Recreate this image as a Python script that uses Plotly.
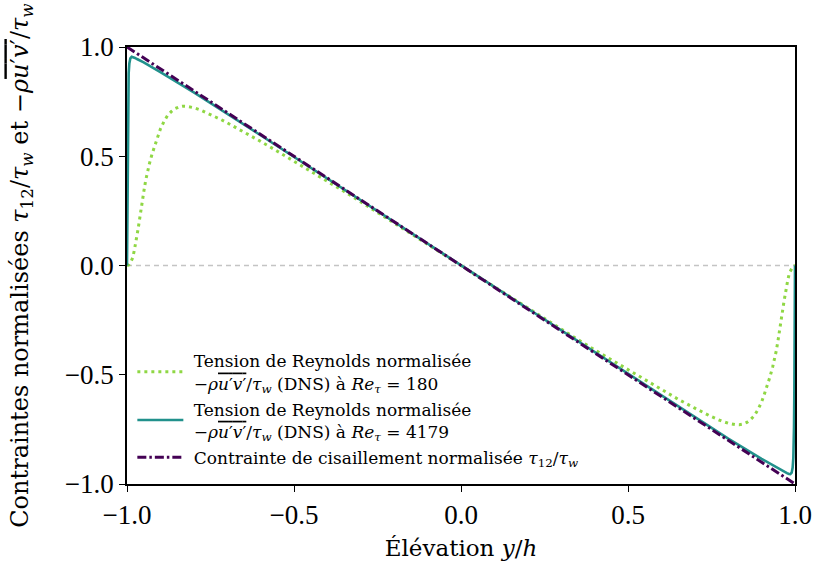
import plotly.graph_objects as go

# Re_tau = 180 DNS Reynolds stress
x180 = [-1.0, -0.994, -0.989, -0.983, -0.978, -0.972, -0.967, -0.961, -0.956, -0.950,
        -0.944, -0.939, -0.933, -0.925, -0.917, -0.908, -0.900, -0.889, -0.878, -0.867,
        -0.856, -0.844, -0.833, -0.82, -0.80, -0.78, -0.75, -0.72, -0.70, -0.65,
        -0.60, -0.55, -0.50, -0.45, -0.40, -0.35, -0.30, -0.25, -0.20, -0.15,
        -0.10, -0.05, 0.0,
        0.05, 0.10, 0.15, 0.20, 0.25, 0.30, 0.35, 0.40, 0.45, 0.50,
        0.55, 0.60, 0.65, 0.70, 0.72, 0.75, 0.78, 0.80, 0.82, 0.833,
        0.844, 0.856, 0.867, 0.878, 0.889, 0.900, 0.908, 0.917, 0.925, 0.933,
        0.939, 0.944, 0.950, 0.956, 0.961, 0.967, 0.972, 0.978, 0.983, 0.989,
        0.994, 1.0]
y180 = [0.0, 0.003, 0.015, 0.035, 0.07, 0.115, 0.165, 0.225, 0.285, 0.335,
        0.39, 0.43, 0.465, 0.51, 0.55, 0.59, 0.625, 0.66, 0.688, 0.705,
        0.718, 0.726, 0.729, 0.728, 0.722, 0.712, 0.692, 0.669, 0.653, 0.612,
        0.568, 0.523, 0.478, 0.432, 0.386, 0.339, 0.291, 0.243, 0.195, 0.146,
        0.098, 0.049, 0.0,
        -0.049, -0.098, -0.146, -0.195, -0.243, -0.291, -0.339, -0.386, -0.432, -0.478,
        -0.523, -0.568, -0.612, -0.653, -0.669, -0.692, -0.712, -0.722, -0.728, -0.729,
        -0.726, -0.718, -0.705, -0.688, -0.66, -0.625, -0.59, -0.55, -0.51, -0.465,
        -0.43, -0.39, -0.335, -0.285, -0.225, -0.165, -0.115, -0.07, -0.035, -0.015,
        -0.003, 0.0]

# Re_tau = 4179 DNS Reynolds stress
x4179 = [-1.0, -0.9996, -0.9992, -0.9988, -0.9984, -0.998, -0.997, -0.996, -0.995, -0.993,
         -0.990, -0.986, -0.982, -0.976, -0.97, -0.95, -0.90, -0.80, -0.60, -0.40,
         -0.20, 0.0, 0.20, 0.40, 0.60, 0.80, 0.90, 0.95, 0.97, 0.976,
         0.982, 0.986, 0.990, 0.993, 0.995, 0.996, 0.997, 0.998, 0.9984, 0.9988,
         0.9992, 0.9996, 1.0]
y4179 = [0.0, 0.08, 0.2, 0.34, 0.47, 0.58, 0.74, 0.83, 0.88, 0.925,
         0.948, 0.955, 0.954, 0.95, 0.945, 0.93, 0.885, 0.792, 0.596, 0.398,
         0.199, 0.0, -0.199, -0.398, -0.596, -0.792, -0.885, -0.93, -0.945, -0.95,
         -0.954, -0.955, -0.948, -0.925, -0.88, -0.83, -0.74, -0.58, -0.47, -0.34,
         -0.2, -0.08, 0.0]

# Total shear stress tau_12 / tau_w
x_tau = [-1.0, 1.0]
y_tau = [1.0, -1.0]

x_ticks = [-1.0, -0.5, 0.0, 0.5, 1.0]
y_ticks = [-1.0, -0.5, 0.0, 0.5, 1.0]
tick_text = ["\u22121.0", "\u22120.5", "0.0", "0.5", "1.0"]

OV = "<span style='text-decoration:overline'><i>u</i>\u2032<i>v</i>\u2032</span>"
RS = "\u2212<i>\u03c1</i>" + OV + "/<i>\u03c4</i><sub><i>w</i></sub>"
SP = "\u00a0"

TICKFONT = "Liberation Serif, DejaVu Serif, serif"
FONT = "DejaVu Serif, Liberation Serif, serif"

fig = go.Figure()
fig.add_trace(go.Scatter(x=[-1.0, 1.0], y=[0.0, 0.0], mode="lines",
                         line=dict(color="#c4c4c4", width=1.3, dash="5px,4px"),
                         showlegend=False, hoverinfo="skip"))
fig.add_trace(go.Scatter(x=x180, y=y180, mode="lines", legendgroup="g1",
                         line=dict(color="#8fd744", width=3, dash="3px,4px"),
                         name=SP + "Tension de Reynolds normalisée<br>" + SP + RS + " (DNS) à <i>Re</i><sub><i>\u03c4</i></sub> = 180"))
fig.add_trace(go.Scatter(x=x4179, y=y4179, mode="lines", legendgroup="g2",
                         line=dict(color="#21918c", width=2.6),
                         name=SP + "Tension de Reynolds normalisée<br>" + SP + RS + " (DNS) à <i>Re</i><sub><i>\u03c4</i></sub> = 4179"))
fig.add_trace(go.Scatter(x=x_tau, y=y_tau, mode="lines", legendgroup="g3",
                         line=dict(color="#440154", width=3, dash="9px,3px,2.5px,3px"),
                         name=SP + "Contrainte de cisaillement normalisée <i>\u03c4</i><sub>12</sub>/<i>\u03c4</i><sub><i>w</i></sub>"))

axis_common = dict(showgrid=False, zeroline=False, showline=True, linecolor="black",
                   linewidth=1.6, mirror=True, ticks="outside", ticklen=6, tickwidth=1.3,
                   tickcolor="black", automargin=False,
                   tickfont=dict(family=TICKFONT, size=27, color="black"))

fig.update_layout(
    width=813, height=571,
    margin=dict(l=127, r=18, t=47, b=87, autoexpand=False),
    plot_bgcolor="white", paper_bgcolor="white",
    font=dict(family=FONT, color="black"),
    xaxis=dict(range=[-1.0, 1.0], tickvals=x_ticks, ticktext=tick_text,
               title=dict(text="Élévation <i>y</i>/<i>h</i>", font=dict(family=FONT, size=23), standoff=11),
               **axis_common),
    yaxis=dict(range=[-1.0, 1.0], tickvals=y_ticks, ticktext=tick_text,
               title=dict(text="Contraintes normalisées <i>\u03c4</i><sub>12</sub>/<i>\u03c4</i><sub><i>w</i></sub> et " + RS,
                          font=dict(family=FONT, size=24), standoff=29),
               **axis_common),
    legend=dict(x=0.008, y=0.02, xanchor="left", yanchor="bottom",
                bgcolor="rgba(255,255,255,0)", borderwidth=0,
                font=dict(family=FONT, size=17, color="black"),
                tracegroupgap=1, itemwidth=46),
    showlegend=True,
)

fig.write_html("out.html", config={"displayModeBar": False},
               post_script="document.body.style.margin='0';document.body.style.overflow='hidden';")
